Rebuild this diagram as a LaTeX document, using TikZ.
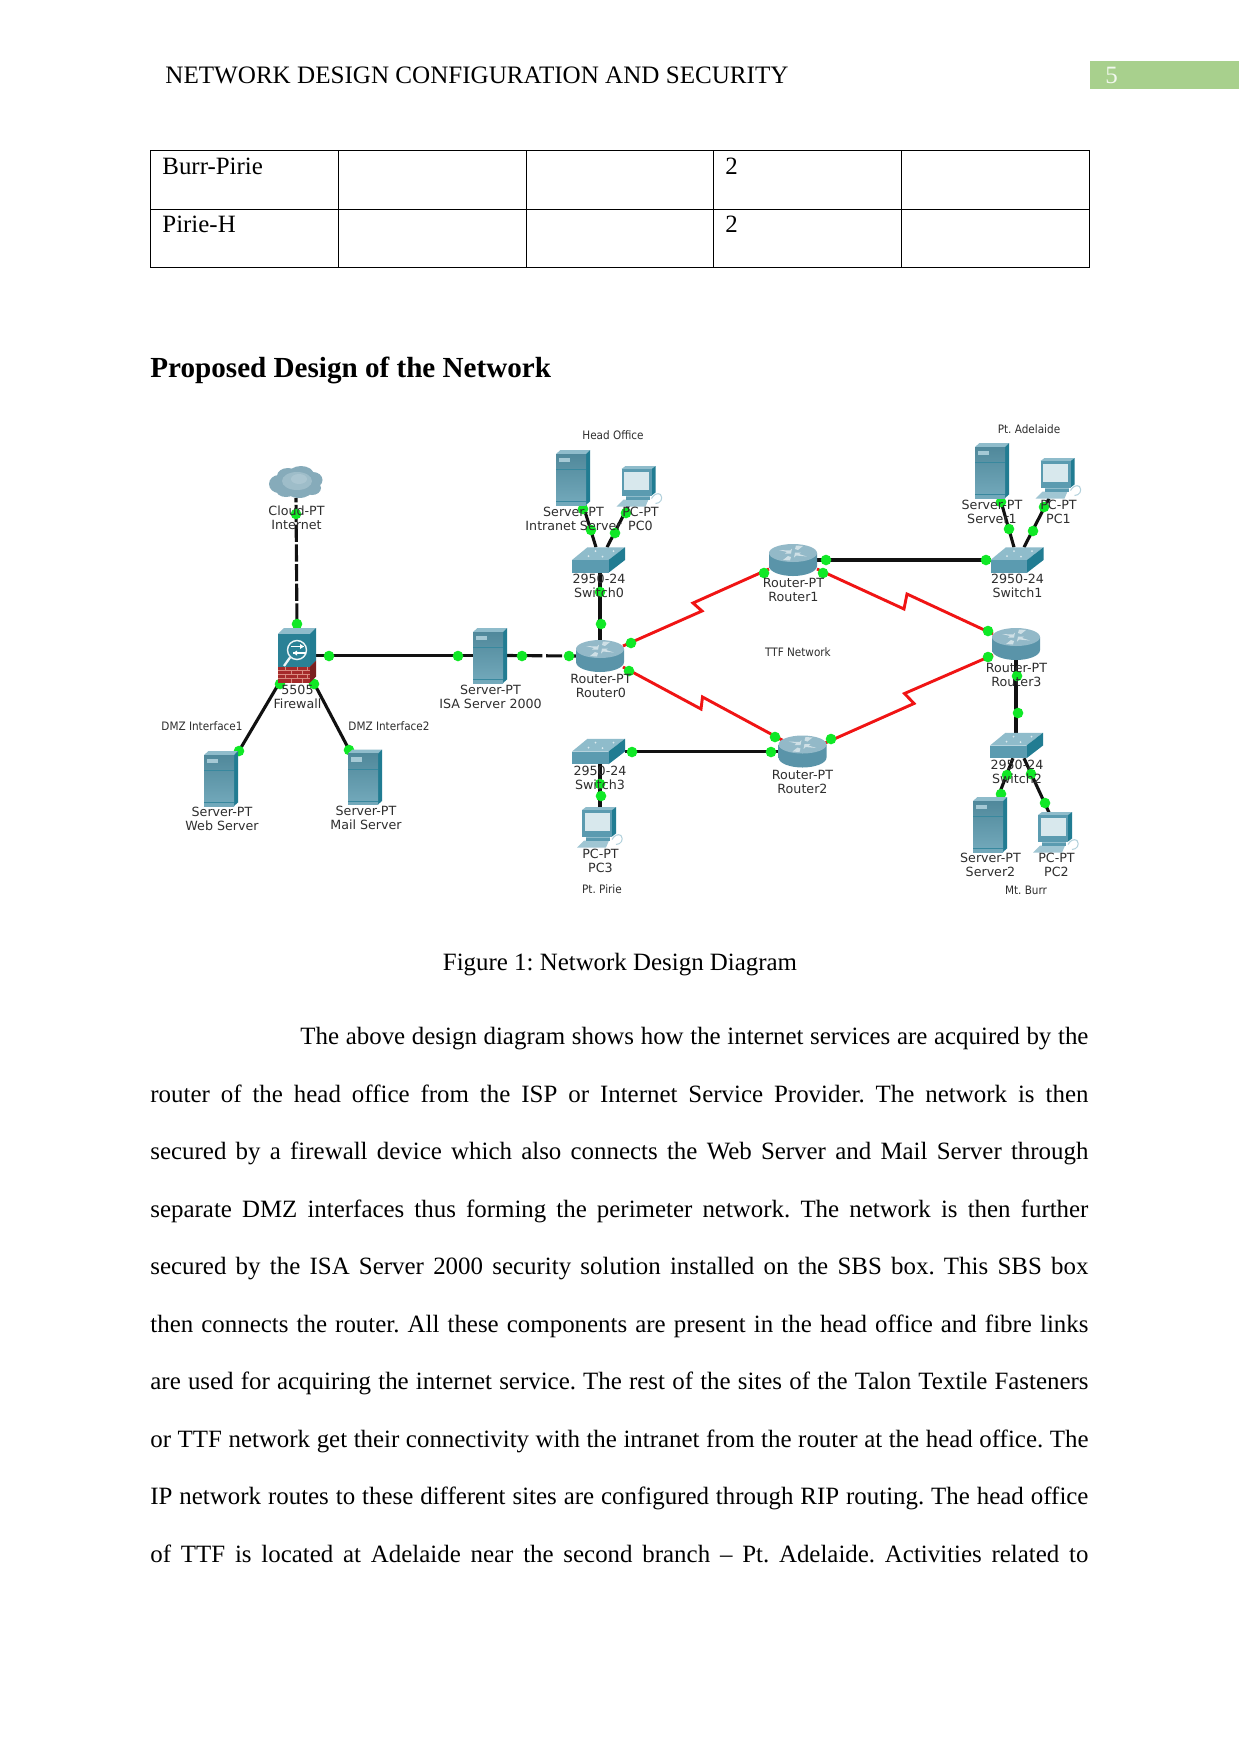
\documentclass[tikz,border=0pt]{standalone}
\usepackage{fontspec}
\setmainfont{Liberation Serif}
\newfontfamily\devfont{DejaVu Sans}
\newfontfamily\notefont{DejaVu Sans Condensed}
\usetikzlibrary{calc}
\definecolor{wire}{HTML}{111111}
\definecolor{serial}{HTML}{F01414}
\definecolor{lamp}{HTML}{10E826}
\definecolor{tealfront}{HTML}{5B9BB0}
\definecolor{tealdark}{HTML}{217C92}
\definecolor{teallight}{HTML}{8FBCCB}
\definecolor{tabgreen}{HTML}{A8D08D}
\definecolor{labelink}{HTML}{2E2E2E}
\definecolor{brick}{HTML}{A52A2A}
\definecolor{brickdark}{HTML}{7A1F1F}
\definecolor{mortar}{HTML}{D88A80}
\definecolor{cloudedge}{HTML}{86ABBA}
\definecolor{cloudmid}{HTML}{A9C5D0}
\definecolor{cloudtop}{HTML}{BCD2DB}
\definecolor{routertop}{HTML}{93B9C8}
\definecolor{routerside}{HTML}{5A94A9}
\definecolor{routerglow}{HTML}{DDEBF0}
\definecolor{routerarrow}{HTML}{CFE0E6}
\newlength{\fullline}\setlength{\fullline}{450.24bp}
\newlength{\firstline}\setlength{\firstline}{378.24bp}
\tikzset{
  x=0.48bp,y=-0.48bp,
  eth/.style={draw=wire,line width=1.5pt},
  ser/.style={draw=serial,line width=1.4pt,line join=miter},
  fibre/.style={eth,dash pattern=on 8.3pt off 1.2pt,dash phase=6.2pt},
  fibrelong/.style={eth,dash pattern=on 17pt off 1.9pt on 7.7pt off 1.9pt on 12pt off 0pt},
  lampdot/.style={circle,fill=lamp,inner sep=0pt,minimum size=5.1bp},
  iconbox/.style={rectangle,inner sep=0pt,outer sep=0pt},
  serverbox/.style={iconbox,minimum width=16.32bp,minimum height=26.4bp},
  pcbox/.style={iconbox,minimum width=22.56bp,minimum height=19.2bp},
  routerbox/.style={iconbox,minimum width=23.04bp,minimum height=15.36bp},
  switchbox/.style={iconbox,minimum width=25.44bp,minimum height=12.24bp},
  firewallbox/.style={iconbox,minimum width=18.24bp,minimum height=26.4bp},
  cloudbox/.style={iconbox,minimum width=25.44bp,minimum height=15.36bp},
  devlabel/.style={inner sep=0pt,align=center,text=labelink,font=\devfont\fontsize{6.1}{6.75}\selectfont},
  notelabel/.style={inner sep=0pt,text=labelink,font=\notefont\fontsize{5.6}{6.7}\selectfont},
  pagetext/.style={inner sep=0pt,anchor=base west,font=\fontsize{12}{14}\selectfont},
  server/.pic={
    \fill[teallight] (-17,-23.5) -- (-12.5,-27.5) -- (17,-27.5) -- (13,-23.5) -- cycle;
    \fill[tealdark] (13,-23.5) -- (17,-27.5) -- (17,24) -- (13,27.5) -- cycle;
    \shade[top color=tealfront!88!black,bottom color=tealfront!85!white] (-17,-23.5) rectangle (13,27.5);
    \fill[teallight!80!white] (-14,-20) rectangle (-3,-15.5);
    \draw[tealdark!60!tealfront,line width=0.3pt] (-17,-8) -- (13,-8);
    \draw[tealdark!60!tealfront,line width=0.3pt] (-17,24) -- (13,24);
  },
  pcunit/.pic={
    \draw[teallight!70!white,line width=0.5pt] (16,17) .. controls (21,17) and (24,12) .. (21,8) .. controls (18,6) and (14,8) .. (12,12);
    \fill[teallight!85!white] (-23,20) -- (-16,13) -- (9,13) -- (6,20) -- cycle;
    \fill[tealfront] (-14,7) rectangle (10,13.5);
    \fill[teallight] (-14,9) rectangle (10,10.5);
    \fill[tealdark] (12,-20.5) -- (16,-20.5) -- (16,6) -- (12,9) -- cycle;
    \fill[teallight] (-18,-17.5) -- (-14,-20.5) -- (16,-20.5) -- (12,-17.5) -- cycle;
    \fill[tealfront] (-18,-17.5) rectangle (12,9);
    \fill[teallight!35!white] (-15.5,-14.5) rectangle (9.5,3.5);
  },
  router/.pic={
    \shade[left color=routerside,middle color=routerglow,right color=routerside]
      (-24,-7) -- (-24,6) .. controls (-24,12) and (-12,16) .. (0,16) .. controls (12,16) and (24,12) .. (24,6) -- (24,-7) -- cycle;
    \fill[routertop] (0,-7) ellipse [x radius=24,y radius=9];
    \fill[routerarrow] (-14,-10) -- (-3,-9.5) -- (-1,-11.5) -- (-2,-6.5) -- (-8,-6.5) -- (-6,-8) -- cycle;
    \fill[routerarrow] (14,-3.5) -- (3,-4.5) -- (1,-2.5) -- (2,-7.5) -- (8,-7.5) -- (6,-6) -- cycle;
    \fill[routerarrow] (3,-14.5) -- (10,-14) -- (5,-10) -- (2,-11) -- cycle;
    \fill[routerarrow] (-3,0.5) -- (-10,0) -- (-5,-4) -- (-2,-3) -- cycle;
  },
  switchunit/.pic={
    \fill[teallight] (-26.5,0) -- (-11,-12.75) -- (26.5,-12.75) -- (10,0) -- cycle;
    \fill[tealdark] (10,0) -- (26.5,-12.75) -- (26.5,0) -- (10,12.75) -- cycle;
    \fill[tealfront] (-26.5,0) rectangle (10,12.75);
    \fill[white!70!teallight] (-10,-4) circle [radius=1];
    \fill[white!70!teallight] (-3,-9) circle [radius=1];
    \fill[white!70!teallight] (15,-9) circle [radius=1];
    \fill[white!70!teallight] (4,-3.5) circle [radius=1];
  },
  firewallunit/.pic={
    \fill[teallight] (-19,-21.7) -- (-13,-27.5) -- (19,-27.5) -- (13,-21.7) -- cycle;
    \fill[tealdark] (13,-21.7) -- (19,-27.5) -- (19,5) -- (13,11) -- cycle;
    \fill[tealdark!85!tealfront] (-19,-21.7) rectangle (13,11);
    \fill[brick] (-19,11) rectangle (13,27);
    \fill[brickdark] (13,11) -- (19,5) -- (19,21) -- (13,27) -- cycle;
    \foreach \r in {14.5,18.5,22.5} \draw[mortar,line width=0.3pt] (-19,\r) -- (13,\r);
    \foreach \c in {-12,0,10} \draw[mortar,line width=0.3pt] (\c,11) -- (\c,14.5) (\c,18.5) -- (\c,22.5);
    \foreach \c in {-6,5} \draw[mortar,line width=0.3pt] (\c,14.5) -- (\c,18.5) (\c,22.5) -- (\c,27);
    \draw[white!85!teallight,line width=0.7pt] (0,-5.5) circle [radius=9.5];
    \draw[white!85!teallight,line width=1.1pt] (-7,2) -- (-13,10.5);
    \draw[white,line width=0.6pt] (-6,-9) -- (7,-9);
    \draw[white,line width=0.6pt] (-4,-2.5) -- (9,-2.5);
    \fill[white] (7,-9) -- (3,-11.5) -- (3,-6.5) -- cycle;
    \fill[white] (-4,-2.5) -- (0,-5) -- (0,0) -- cycle;
  },
  cloudunit/.pic={
    \fill[cloudedge]
      (-17,2) circle [x radius=10,y radius=9]
      (-8,-6) circle [x radius=11,y radius=8]
      (5,-7) circle [x radius=13,y radius=9]
      (17,-2) circle [x radius=9.5,y radius=8]
      (16,6) circle [x radius=9,y radius=7]
      (3,7) circle [x radius=14,y radius=9]
      (-10,8) circle [x radius=10,y radius=7];
    \fill[cloudmid,opacity=0.7] (1,-1) ellipse [x radius=15,y radius=9];
    \fill[cloudtop,opacity=0.45] (3,-3) ellipse [x radius=8,y radius=5];
  },
}
\begin{document}
\frenchspacing
\begin{tikzpicture}
\useasboundingbox (0,0) rectangle (1241,1754);
\fill[white] (0,0) rectangle (1241,1754);

% Running head and page tab
\node[pagetext,font=\fontsize{12.09}{14}\selectfont] (head) at (165,83) {NETWORK DESIGN CONFIGURATION AND SECURITY};
\node[iconbox,anchor=north west,fill=tabgreen,minimum width=71.5bp,minimum height=13.6bp] (tab) at (1090,61) {};
\node[pagetext,text=white!85!tabgreen] (pageno) at (1105,83) {5};

% Link table
\foreach \cx in {150.5,338.5,526.5,713,901,1089.5}
  \draw[black,line width=0.45pt] (\cx,150) -- (\cx,267.5);
\foreach \cy in {150,209.5,267.5}
  \draw[black,line width=0.45pt] (150.5,\cy) -- (1089.5,\cy);
\node[pagetext] (burr) at (162,174) {Burr-Pirie};
\node[pagetext] (burrn) at (725,174) {2};
\node[pagetext] (pirie) at (162,232) {Pirie-H};
\node[pagetext] (pirien) at (725,232) {2};

\node[pagetext,font=\bfseries\fontsize{14.03}{16}\selectfont] (title) at (150,377) {Proposed Design of the Network};

% Device placeholders carry the names that the links attach to
\node[cloudbox] (cloud) at (296,482) {};
\node[firewallbox] (fw) at (297,655.5) {};
\node[serverbox] (web) at (221,778.5) {};
\node[serverbox] (mail) at (365,777) {};
\node[serverbox] (isa) at (490,655.5) {};
\node[routerbox] (r0) at (600,656) {};
\node[routerbox] (r1) at (793,560) {};
\node[routerbox] (r2) at (802.5,751.5) {};
\node[routerbox] (r3) at (1016,644) {};
\node[switchbox] (sw0) at (598.5,560) {};
\node[switchbox] (sw1) at (1017,560) {};
\node[switchbox] (sw2) at (1016.5,745.5) {};
\node[switchbox] (sw3) at (598.5,751.5) {};
\node[serverbox] (srv0) at (573,477.5) {};
\node[serverbox] (srv1) at (992,470.5) {};
\node[serverbox] (srv2) at (990,824.5) {};
\node[pcbox] (pc0) at (639.5,486.5) {};
\node[pcbox] (pc1) at (1058.5,478.5) {};
\node[pcbox] (pc2) at (1056,832.5) {};
\node[pcbox] (pc3) at (600,827.5) {};

% Copper and fibre links
\draw[fibre] (cloud.south) -- (fw.north);
\draw[eth] (fw.east) -- (isa.west);
\draw[fibrelong] (isa.east) -- (r0.west);
\draw[eth] ($(fw.south)+(-19,2)$) -- ($(web.north)+(18,0)$);
\draw[eth] ($(fw.south)+(18,2)$) -- ($(mail.north)+(-16,0)$);
\draw[eth] ($(srv0.south)+(10,0)$) -- ($(sw0.north)+(-2.5,0)$);
\draw[eth] ($(pc0.south)+(-10.5,-2)$) -- ($(sw0.north)+(8.5,0)$);
\draw[eth] (r0.north) -- (sw0.south -| r0.north);
\draw[eth] (r1.east) -- (sw1.west);
\draw[eth] ($(srv1.south)+(8,0)$) -- ($(sw1.north)+(-3,0)$);
\draw[eth] ($(pc1.south)+(-9.5,0)$) -- ($(sw1.north)+(7,0)$);
\draw[eth] (r3.south) -- (sw2.north -| r3.south);
\draw[eth] ($(sw2.south)+(-3.5,0)$) -- ($(srv2.north)+(8,0)$);
\draw[eth] ($(sw2.south)+(7.5,0)$) -- ($(pc2.north)+(-7,0)$);
\draw[eth] (sw3.east) -- (r2.west);
\draw[eth] (pc3.north) -- (sw3.south -| pc3.north);

% Serial links with their lightning-bolt kink
\coordinate (k0a) at (702,611);
\coordinate (k0b) at (693,603);
\coordinate (k1a) at (904,609);
\coordinate (k1b) at (907,594);
\coordinate (k2a) at (701,709);
\coordinate (k2b) at (702.5,697);
\coordinate (k3a) at (914,703.5);
\coordinate (k3b) at (904.5,693.5);
\draw[ser] ($(r0.east)+(-1,-10)$) -- (k0a) -- (k0b) -- ($(r1.west)+(0,9)$);
\draw[ser] ($(r1.east)+(0,9)$) -- (k1a) -- (k1b) -- ($(r3.west)+(1,-10)$);
\draw[ser] ($(r0.east)+(-1,11)$) -- (k2a) -- (k2b) -- ($(r2.west)+(4.5,-11)$);
\draw[ser] ($(r2.east)+(-2.5,-8)$) -- (k3a) -- (k3b) -- ($(r3.west)+(1,11)$);

% Link-state lamps
\foreach \n/\lx/\ly in {
  a/296/514, b/297/624, c/329/656, d/458/656, e/522/656, f/569/656,
  g/280/684, h/239/751, i/314/684, j/349/750,
  k/583/509, l/591/530, m/626/513, n/615/533, o/600/592, p/601/624,
  q/631/643, r/764/573, s/629/671, t/775/737, u/823/573, v/988/631,
  w/831/739, x/988/657, y/826/560, z/986/560,
  aa/1001/502, ab/1009/529, ac/1044/507, ad/1033/531,
  ae/1017/676, af/1018/713, ag/1007/775, ah/1001/794, ai/1031/774, aj/1045/803,
  ak/632/752, al/771/752, am/600/784, an/601/796}
  \node[lampdot] (lamp\n) at (\lx,\ly) {};

% Device icons
\pic at (cloud) {cloudunit};
\pic at (fw) {firewallunit};
\foreach \d in {web,mail,isa,srv0,srv1,srv2} \pic at (\d) {server};
\foreach \d in {r0,r1,r2,r3} \pic at (\d) {router};
\foreach \d in {sw0,sw1,sw2,sw3} \pic at (\d) {switchunit};
\foreach \d in {pc0,pc1,pc2,pc3} \pic at (\d) {pcunit};

% Device captions
\node[devlabel] (lcloud) at (296.5,518) {Cloud-PT\\Internet};
\node[devlabel] (lfw) at (297.5,697) {5505\\Firewall};
\node[devlabel] (lisa) at (490.5,697) {Server-PT\\ISA Server 2000};
\node[devlabel] (lweb) at (222,819) {Server-PT\\Web Server};
\node[devlabel] (lmail) at (366,818) {Server-PT\\Mail Server};
\node[devlabel] (lsrv0) at (573.5,519) {Server-PT\\Intranet Server};
\node[devlabel] (lpc0) at (640.5,519) {PC-PT\\PC0};
\node[devlabel] (lsw0) at (599,586) {2950-24\\Switch0};
\node[devlabel] (lr1) at (793.5,590) {Router-PT\\Router1};
\node[devlabel] (lr0) at (601,686) {Router-PT\\Router0};
\node[devlabel] (lsrv1) at (992,512) {Server-PT\\Server1};
\node[devlabel] (lpc1) at (1058.5,512) {PC-PT\\PC1};
\node[devlabel] (lsw1) at (1017.5,586) {2950-24\\Switch1};
\node[devlabel] (lr3) at (1016.5,675) {Router-PT\\Router3};
\node[devlabel] (lsw3) at (600,778) {2950-24\\Switch3};
\node[devlabel] (lpc3) at (600.5,861) {PC-PT\\PC3};
\node[devlabel] (lr2) at (802.5,782) {Router-PT\\Router2};
\node[devlabel] (lsw2) at (1017,772) {2950-24\\Switch2};
\node[devlabel] (lsrv2) at (990.5,865) {Server-PT\\Server2};
\node[devlabel] (lpc2) at (1056.5,865) {PC-PT\\PC2};

% Site and interface notes
\node[notelabel] (nhead) at (613,435) {Head Office};
\node[notelabel] (nade) at (1029,429) {Pt. Adelaide};
\node[notelabel] (nttf) at (798,652) {TTF Network};
\node[notelabel] (npirie) at (602,889) {Pt. Pirie};
\node[notelabel] (nburr) at (1026,890) {Mt. Burr};
\node[notelabel] (ndmza) at (202,726) {DMZ Interface1};
\node[notelabel] (ndmzb) at (389,726) {DMZ Interface2};

\node[pagetext,anchor=base] (caption) at (620,970) {Figure 1: Network Design Diagram};

% Body paragraph, set line by line to the full measure
\node[pagetext] (b1) at (300,1044) {\hbox to \firstline{The above design diagram shows how the internet services are acquired by the}};
\node[pagetext] (b2) at (150,1102) {\hbox to \fullline{router of the head office from the ISP or Internet Service Provider. The network is then}};
\node[pagetext] (b3) at (150,1159) {\hbox to \fullline{secured by a firewall device which also connects the Web Server and Mail Server through}};
\node[pagetext] (b4) at (150,1217) {\hbox to \fullline{separate DMZ interfaces thus forming the perimeter network. The network is then further}};
\node[pagetext] (b5) at (150,1274) {\hbox to \fullline{secured by the ISA Server 2000 security solution installed on the SBS box. This SBS box}};
\node[pagetext] (b6) at (150,1332) {\hbox to \fullline{then connects the router. All these components are present in the head office and fibre links}};
\node[pagetext] (b7) at (150,1389) {\hbox to \fullline{are used for acquiring the internet service. The rest of the sites of the Talon Textile Fasteners}};
\node[pagetext] (b8) at (150,1447) {\hbox to \fullline{or TTF network get their connectivity with the intranet from the router at the head office. The}};
\node[pagetext] (b9) at (150,1504) {\hbox to \fullline{IP network routes to these different sites are configured through RIP routing. The head office}};
\node[pagetext] (b10) at (150,1562) {\hbox to \fullline{of TTF is located at Adelaide near the second branch – Pt. Adelaide. Activities related to}};
\end{tikzpicture}
\end{document}
